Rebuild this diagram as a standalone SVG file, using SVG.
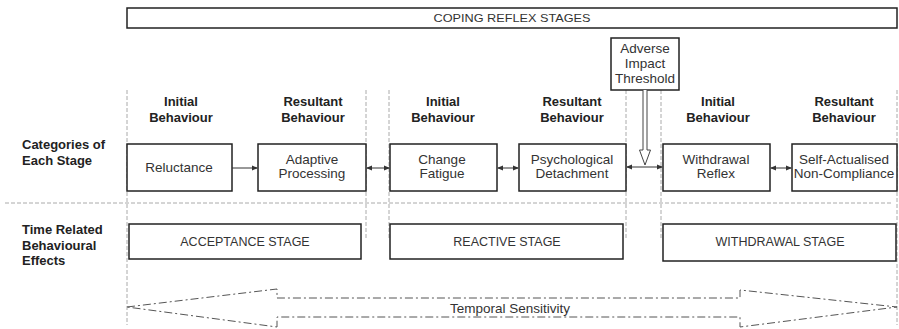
<svg xmlns="http://www.w3.org/2000/svg" width="899" height="329" viewBox="0 0 899 329">
<style>
.box{fill:#fff;stroke:#222;stroke-width:1.5}
.guide{stroke:#aaa;stroke-width:1;stroke-dasharray:4,2;fill:none}
.conn{stroke:#333;stroke-width:1;fill:none}
.t{font-family:"Liberation Sans",Arial,sans-serif;fill:#333;text-anchor:middle}
.bt{font-size:13.5px}
.hd{font-size:13px;font-weight:bold;fill:#222}
.lb{font-size:13px;font-weight:bold;fill:#222;text-anchor:start}
.st{font-size:12.5px}
</style>
<defs>
<marker id="ah" markerWidth="6" markerHeight="6" refX="5" refY="3" orient="auto-start-reverse" markerUnits="userSpaceOnUse">
<path d="M0,0.5 L6,3 L0,5.5 Z" fill="#333"/>
</marker>
</defs>
<rect width="899" height="329" fill="#fff"/>

<g id="guides">
<line class="guide" x1="127" y1="90" x2="127" y2="325"/>
<line class="guide" x1="366" y1="90" x2="366" y2="240"/>
<line class="guide" x1="389" y1="90" x2="389" y2="240"/>
<line class="guide" x1="626" y1="90" x2="626" y2="240"/>
<line class="guide" x1="661" y1="90" x2="661" y2="240"/>
<line class="guide" x1="897" y1="90" x2="897" y2="325"/>
<line class="guide" x1="5" y1="203" x2="893" y2="203"/>
</g>

<g id="title">
<rect class="box" x="127" y="8" width="770" height="20"/>
<text class="t" x="512" y="22" font-size="11" textLength="157" lengthAdjust="spacingAndGlyphs">COPING REFLEX STAGES</text>
</g>

<g id="threshold">
<rect class="box" x="611" y="38" width="68" height="52"/>
<text class="t bt" x="645" y="53">Adverse</text>
<text class="t bt" x="645" y="68">Impact</text>
<text class="t bt" x="645" y="83">Threshold</text>
</g>

<g id="labels">
<text class="t lb" x="22" y="149">Categories of</text>
<text class="t lb" x="22" y="165">Each Stage</text>
<text class="t lb" x="22" y="234">Time Related</text>
<text class="t lb" x="22" y="250">Behavioural</text>
<text class="t lb" x="22" y="265">Effects</text>
</g>

<g id="headers">
<text class="t hd" x="181" y="106">Initial</text>
<text class="t hd" x="181" y="122">Behaviour</text>
<text class="t hd" x="313" y="106">Resultant</text>
<text class="t hd" x="313" y="122">Behaviour</text>
<text class="t hd" x="443" y="106">Initial</text>
<text class="t hd" x="443" y="122">Behaviour</text>
<text class="t hd" x="572" y="106">Resultant</text>
<text class="t hd" x="572" y="122">Behaviour</text>
<text class="t hd" x="718" y="106">Initial</text>
<text class="t hd" x="718" y="122">Behaviour</text>
<text class="t hd" x="844" y="106">Resultant</text>
<text class="t hd" x="844" y="122">Behaviour</text>
</g>

<g id="reluctance">
<rect class="box" x="127" y="144" width="105" height="47"/>
<text class="t bt" x="179" y="172">Reluctance</text>
</g>
<g id="adaptive">
<rect class="box" x="258" y="144" width="108" height="47"/>
<text class="t bt" x="312" y="164">Adaptive</text>
<text class="t bt" x="312" y="178">Processing</text>
</g>
<g id="change">
<rect class="box" x="390" y="144" width="107" height="47"/>
<text class="t bt" x="442" y="164">Change</text>
<text class="t bt" x="442" y="178">Fatigue</text>
</g>
<g id="psych">
<rect class="box" x="519" y="144" width="107" height="47"/>
<text class="t bt" x="572" y="164">Psychological</text>
<text class="t bt" x="572" y="178">Detachment</text>
</g>
<g id="withdrawal">
<rect class="box" x="663" y="144" width="107" height="47"/>
<text class="t bt" x="716" y="164">Withdrawal</text>
<text class="t bt" x="716" y="178">Reflex</text>
</g>
<g id="selfact">
<rect class="box" x="792" y="144" width="105" height="47"/>
<text class="t bt" x="844" y="164">Self-Actualised</text>
<text class="t bt" x="844" y="178">Non-Compliance</text>
</g>

<g id="acceptance">
<rect class="box" x="129" y="224" width="232" height="35"/>
<text class="t st" x="245" y="246">ACCEPTANCE STAGE</text>
</g>
<g id="reactive">
<rect class="box" x="390" y="224" width="233" height="35"/>
<text class="t st" x="507" y="246">REACTIVE STAGE</text>
</g>
<g id="withdrawalstage">
<rect class="box" x="663" y="224" width="233" height="37"/>
<text class="t st" x="780" y="246">WITHDRAWAL STAGE</text>
</g>

<g id="connectors">
<line class="conn" x1="232" y1="168" x2="257" y2="168" marker-end="url(#ah)"/>
<line class="conn" x1="367" y1="168" x2="389" y2="168" marker-start="url(#ah)" marker-end="url(#ah)"/>
<line class="conn" x1="498" y1="168" x2="518" y2="168" marker-start="url(#ah)" marker-end="url(#ah)"/>
<line class="conn" x1="627" y1="167" x2="662" y2="167" marker-start="url(#ah)" marker-end="url(#ah)"/>
<line class="conn" x1="771" y1="168" x2="791" y2="168" marker-start="url(#ah)" marker-end="url(#ah)"/>
<path d="M643,90 V150 H639.5 L645,165 L650.5,150 H647 V90" fill="#fff" stroke="#444" stroke-width="1"/>
</g>

<g id="temporal">
<path d="M127,307 L277,289 L277,298 L740,298 L740,290 L897,307 L740,327 L740,317 L277,317 L277,327 Z" fill="none" stroke="#555" stroke-width="1" stroke-dasharray="8,3,2,3"/>
<text class="t bt" x="510" y="313">Temporal Sensitivity</text>
</g>
</svg>
